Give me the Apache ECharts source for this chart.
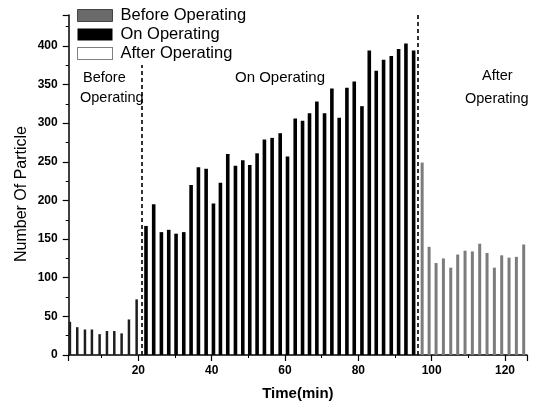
<!DOCTYPE html>
<html>
<head>
<meta charset="utf-8">
<script src="https://cdn.jsdelivr.net/npm/echarts@6/dist/echarts.min.js"></script>
<style>
html,body{margin:0;padding:0;background:#fff;}
#chart{width:537px;height:408px;}
</style>
</head>
<body>
<div id="chart"></div>
<script>
// Data
var beforeTime  = [1.4, 3.4, 5.5, 7.4, 9.5, 11.5, 13.5, 15.5, 17.5, 19.6];
var beforeCount = [43, 36, 33, 33, 27, 31, 31, 28, 46, 72];

var onTime  = [22.0, 24.1, 26.2, 28.2, 30.2, 32.3, 34.3, 36.3, 38.4, 40.4,
               42.3, 44.3, 46.4, 48.4, 50.3, 52.3, 54.3, 56.4, 58.6, 60.6,
               62.7, 64.7, 66.6, 68.6, 70.7, 72.7, 74.7, 76.8, 78.8, 80.9,
               82.9, 84.8, 86.8, 88.9, 90.9, 92.9, 95.0];
var onCount = [167, 195, 159, 162, 157, 159, 220, 243, 241, 196,
               223, 260, 245, 252, 246, 261, 279, 281, 287, 257,
               306, 303, 313, 328, 313, 345, 307, 346, 354, 322,
               394, 368, 382, 387, 396, 403, 394];

var afterTime  = [97.4, 99.3, 101.2, 103.2, 105.2, 107.1, 109.1, 111.1, 113.1, 115.1,
                  117.1, 119.1, 121.1, 123.1, 125.1];
var afterCount = [249, 140, 119, 125, 113, 130, 135, 134, 144, 132,
                  113, 129, 126, 127, 143];

var phaseBoundaries = [20.9, 96.0];
var seriesNames = ['Before Operating', 'On Operating', 'After Operating'];
var xTickLabels = [20, 40, 60, 80, 100, 120];

function zip(a, b) { return a.map(function (v, i) { return [v, b[i]]; }); }

var chart = echarts.init(document.getElementById('chart'), null, {renderer: 'canvas'});
var font = '"Liberation Sans", Arial, sans-serif';

chart.setOption({
  animation: false,
  backgroundColor: '#fff',
  grid: {left: 68.7, right: 10, top: 15, bottom: 53, containLabel: false},
  legend: {
    orient: 'vertical',
    left: 74,
    top: 5,
    icon: 'rect',
    itemWidth: 35,
    itemHeight: 12,
    itemGap: 2,
    padding: [2, 6, 3, 3],
    backgroundColor: '#fff',
    textStyle: {fontFamily: font, fontSize: 16.5, color: '#000', padding: [0, 0, 0, 3]},
    data: [
      {name: seriesNames[0], itemStyle: {color: '#6a6a6a', borderColor: '#444', borderWidth: 1}},
      {name: seriesNames[1], itemStyle: {color: '#000'}},
      {name: seriesNames[2], itemStyle: {color: '#fff', borderColor: '#000', borderWidth: 1, borderType: 'dotted'}}
    ],
    z: 10
  },
  xAxis: {
    type: 'value',
    min: 1,
    max: 126,
    splitNumber: 6,
    name: 'Time(min)',
    nameLocation: 'middle',
    nameGap: 31,
    nameTextStyle: {fontFamily: font, fontSize: 15, fontWeight: 'bold', color: '#000'},
    axisLine: {show: true, lineStyle: {color: '#000', width: 1.5}},
    axisTick: {show: true, length: 6, lineStyle: {color: '#000', width: 1.2}},
    minorTick: {show: true, splitNumber: 2, length: 3, lineStyle: {color: '#000', width: 1}},
    splitLine: {show: false},
    axisLabel: {
      margin: 10, fontFamily: font, fontSize: 12, fontWeight: 'bold', color: '#000',
      showMinLabel: false, showMaxLabel: false,
      formatter: function (v) { return xTickLabels.indexOf(v) >= 0 ? String(v) : ''; }
    }
  },
  yAxis: {
    type: 'value',
    min: 0,
    max: 440,
    interval: 50,
    axisLine: {show: true, lineStyle: {color: '#000', width: 1.5}},
    axisTick: {show: true, length: 6, lineStyle: {color: '#000', width: 1.2}},
    minorTick: {show: true, splitNumber: 2, length: 3, lineStyle: {color: '#000', width: 1}},
    splitLine: {show: false},
    axisLabel: {
      margin: 11, fontFamily: font, fontSize: 12, fontWeight: 'bold', color: '#000',
      showMaxLabel: false
    }
  },
  series: [
    {
      name: seriesNames[0], type: 'bar', barWidth: 2.5, barGap: '-100%',
      itemStyle: {color: '#1e1e1e'},
      data: zip(beforeTime, beforeCount)
    },
    {
      name: seriesNames[1], type: 'bar', barWidth: 3.6, barGap: '-100%',
      itemStyle: {color: '#000'},
      data: zip(onTime, onCount),
      markLine: {
        silent: true,
        symbol: ['none', 'none'],
        label: {show: false},
        lineStyle: {color: '#000', type: [4, 3], width: 1.6},
        data: phaseBoundaries.map(function (x) { return {xAxis: x}; })
      }
    },
    {
      name: seriesNames[2], type: 'bar', barWidth: 3, barGap: '-100%',
      itemStyle: {color: '#7c7c7c'},
      data: zip(afterTime, afterCount)
    }
  ],
  graphic: [
    {type: 'text', x: 22, y: 194, rotation: Math.PI / 2,
     style: {text: 'Number Of Particle', font: '16px ' + font, fill: '#000', align: 'center', verticalAlign: 'middle'}},
    {type: 'text', left: 83, top: 70, style: {text: 'Before', font: '14.5px ' + font, fill: '#000'}},
    {type: 'text', left: 80, top: 90, style: {text: 'Operating', font: '14.5px ' + font, fill: '#000'}},
    {type: 'text', left: 235, top: 70, style: {text: 'On Operating', font: '15px ' + font, fill: '#000'}},
    {type: 'text', left: 482, top: 68, style: {text: 'After', font: '14.5px ' + font, fill: '#000'}},
    {type: 'text', left: 465, top: 91, style: {text: 'Operating', font: '14.5px ' + font, fill: '#000'}}
  ]
});
</script>
</body>
</html>
